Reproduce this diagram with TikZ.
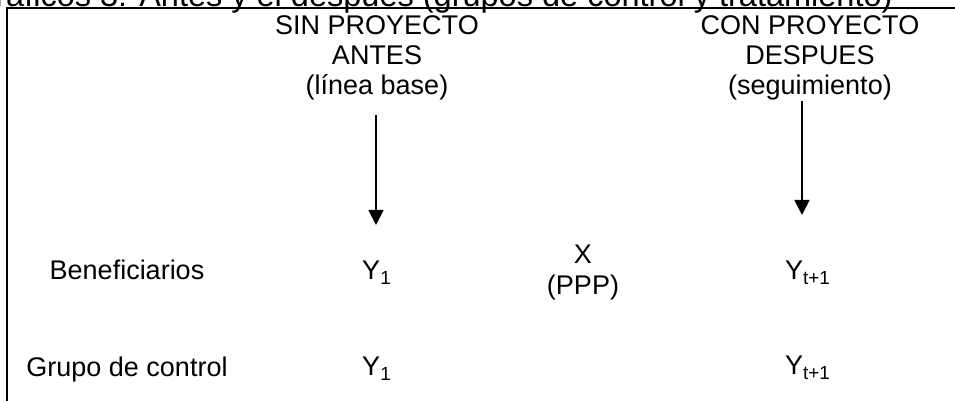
\documentclass[tikz,border=0pt]{standalone}
\usepackage{fontspec}
\setmainfont{Liberation Sans}
\usetikzlibrary{arrows.meta}
\begin{document}
\begin{tikzpicture}[x=0.5pt, y=-0.5pt, font=\fontsize{13.5}{15}\selectfont]
	\tikzset{flecha/.style={-{Triangle[length=7.5pt, width=7.5pt]}, line width=0.9pt},
		texto/.style={inner sep=0pt, anchor=base, align=center}}
	\useasboundingbox (0,0) rectangle (955,401);
	\clip (0,0) rectangle (955,401);
	\node [texto, anchor=base east, font=\fontsize{16.25}{18}\selectfont] (titulo) at (893,7) {Gráficos 3: Antes y el después (grupos de control y tratamiento)};
	\draw [line width=1pt] (7,401) -- (7,8.5) -- (955,8.5);
	% columnas
	\node [texto] (sinhead) at (377,95) {SIN PROYECTO\\ANTES\\(línea base)};
	\node [texto] (conhead) at (810,95) {CON PROYECTO\\DESPUES\\(seguimiento)};
	\coordinate (sinfin) at (376,225);
	\coordinate (confin) at (802,215);
	\draw [flecha, shorten <=7pt] (sinhead.south -| sinfin) -- (sinfin);
	\draw [flecha] (conhead.south -| confin) -- (confin);
	% filas
	\node [texto] (benef) at (127,280) {Beneficiarios};
	\node [texto] (benefantes) at (377,280) {Y\textsubscript{1}};
	\node [texto, font=\fontsize{13.5}{16}\selectfont] (trat) at (583,295) {X\\(PPP)};
	\node [texto] (benefdespues) at (808,280) {Y\textsubscript{t+1}};
	\node [texto] (control) at (127,377) {Grupo de control};
	\node [texto] (controlantes) at (377,376) {Y\textsubscript{1}};
	\node [texto] (controldespues) at (808,375) {Y\textsubscript{t+1}};
\end{tikzpicture}
\end{document}
